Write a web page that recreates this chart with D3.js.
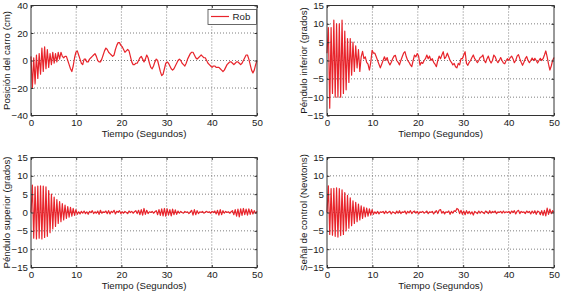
<!DOCTYPE html>
<html lang="es">
<head>
<meta charset="UTF-8">
<title>Respuesta del doble péndulo</title>
<script src="https://d3js.org/d3.v7.min.js"></script>
<style>
  body { margin: 0; background: #fff; }
  svg text { font-family: "Liberation Sans", Arial, sans-serif; font-size: 9.7px; fill: #1a1a1a; }
  .grid line { stroke: #6f6f6f; stroke-width: 0.9; stroke-dasharray: 1,2; }
  .frame { fill: none; stroke: #333; stroke-width: 1; }
  .axis path { display: none; }
  .axis line { stroke: #333; }
  .serie { fill: none; stroke: #e8242b; stroke-width: 1.2; stroke-linejoin: round; }
</style>
</head>
<body>
<svg width="562" height="293"></svg>
<script>
// rejilla de tiempo: 167 muestras de 0 a 50 s
const tiempo = d3.range(167).map(i => i * 50 / 166);

const posicionCarro = [
  3, -20, 2, -17, 4, -13, 5, -10, 9, -8,
  10, -6, 8, -5, 5, -3, 6, -2, 5, -1,
  6, 1, 6, 3, 2, 3, 3, 0, -3, -6,
  -8, -4, 2, 6, 7, 4, 1, -2, -3, 1,
  1, -1, -1, 1, 2, 3, 4, 5, 3, 0,
  -1, -1, 1, 4, 7, 9, 8, 6, 5, 4,
  3, 4, 8, 11, 13, 13, 11, 10, 8, 6,
  7, 8, 7, 3, -1, -3, -3, -2, -2, 0,
  2, 3, 1, -1, 1, 4, 2, -2, -5, -6,
  -4, -1, 1, 0, -4, -8, -11, -10, -6, -2,
  -1, -2, -4, -6, -7, -6, -4, -2, 0, 1,
  0, -2, -3, -4, -2, 1, 3, 5, 6, 6,
  4, 2, 1, 2, 3, 4, 3, 2, 2, 0,
  -2, -3, -4, -5, -4, -4, -5, -5, -5, -6,
  -7, -8, -7, -5, -3, -2, -1, -1, -2, -3,
  -2, -1, -1, -2, -3, -2, 0, 2, 4, 4,
  1, -3, -7, -9, -7, -3, 0
];

const penduloInferior = [
  2, 9, -13, 9, -9, 11, -10, 10, -10, 10,
  -10, 11, -9, 8, -8, 6, -6, 6, -4, 5,
  -3, 4, -2, 3, -3, 1, 2.5, 0.5, 1, -0.5,
  -1, -2.6, -0.5, 2.8, 2, 2, 1, 0, -1, -2,
  -1, 0, 1, 0, 0.8, -0.5, -1.2, -0.5, 0.5, 1.2,
  1.4, 0, -0.5, -1.2, 0, 1, 2, 2.4, 1, 0,
  -0.5, -1.2, -1.7, 0, 1.5, 1, 1.9, 1.2, -1.3, -0.5,
  -0.8, 0, 0.5, 1.5, 0.5, 1.2, 0, 0.5, -0.5, -1,
  -1.7, 0, 1.2, 0.5, 1.5, 2.4, 0.5, 1, 2, 1,
  0, -0.5, -1.2, -0.8, -1.7, -2, -0.8, -1.2, 0.5, 0.5,
  1.5, 2.4, -0.8, -1.3, -0.5, 0, 0.8, 1.5, 0.5, 0,
  -0.6, 0, 0.8, 1, 1.5, 0, -0.6, 0.5, 1.2, 0,
  -0.7, 0, 1.5, 1, 0, -0.6, 0, 0.8, 0, -0.7,
  -0.9, 0, 0.5, 0, 0.8, 1.2, 0.5, -0.6, 0, 1.2,
  1.6, 0.5, -0.5, -1.3, -0.5, 0.5, 1.1, 0, -0.6, 0,
  0.7, 0, 0.6, 0, -0.7, 0, 0.6, 0, 0.5, 1.5,
  2.6, 1, -1, -2.6, -1.5, 0, 0.8
];

const penduloSuperior = [
  0, 7.5, -7, 7, -7.2, 7.2, -7, 7.3, -7.2, 7.2,
  -6.8, 7, -6.5, 6, -5.5, 5, -4.5, 4.2, -3.8, 3.5,
  -3, 3, -2.5, 2.4, -2, 2, -1.6, 1.6, -1.3, 1.4,
  -1, 1.1, -0.8, 0.8, -0.5, 0.2, -0.4, 0.3, -0.2, 0.4,
  -0.3, 0.2, -0.5, 0.3, 0, 0.5, -0.3, 0.2, -0.2, 0.4,
  -0.5, 0.6, -0.2, 0.2, 0, 0.4, -0.3, 0.5, -0.4, 0.3,
  0, 0.6, -0.4, 0.3, 0.1, 0.5, -0.3, 0.2, -0.2, 0.3,
  0, -0.3, 0.4, 0, 0.3, -0.2, 0.2, 0.5, -0.3, 0.6,
  -0.6, 0.8, -0.7, 1.1, -0.5, 0.6, -0.3, 0.2, 0, 0.3,
  -0.2, 0.2, 0.5, -0.6, 0.8, -0.8, 1, -0.9, 1.1, -1,
  1, -0.7, 0.8, -0.9, 0.9, -0.6, 0.7, -0.5, 0.4, -0.2,
  0.3, 0, -0.2, 0.3, 0, 0.2, -0.3, 0.2, 0.6, -0.7,
  0.8, -0.6, 0.5, -0.3, 0.2, 0, 0.3, -0.2, 0.1, 0.3,
  0, 0.2, -0.2, 0.3, 0, 0.4, -0.4, 0.6, -0.7, 0.8,
  -0.6, 0.5, -0.2, 0.3, 0, 0.2, -0.2, 0.2, 0.5, -0.6,
  0.8, -1, 0.9, -1.2, 1, -0.8, 1.1, -0.6, 0.9, -0.7,
  1, -0.5, 0.8, -0.4, 0.5, -0.2, 0.3
];

const senalControl = [
  0, 7.3, -6, 6.5, -6.2, 6.6, -6.5, 6.7, -6.7, 6.5,
  -6.3, 6.2, -6, 5.4, -5, 4.7, -4.3, 4, -3.6, 3.2,
  -3, 2.8, -2.5, 2.3, -2, 1.8, -1.6, 1.5, -1.2, 1.2,
  -1, 1, -0.7, 0.8, -0.5, 0.2, -0.3, 0.3, -0.4, 0.2,
  0, 0.3, -0.3, 0.4, -0.2, 0.1, 0.3, -0.4, 0.2, 0,
  -0.3, 0.4, -0.2, 0.5, -0.3, 0.2, 0, 0.4, -0.4, 0.3,
  -0.1, 0.5, -0.3, 0.2, 0.4, -0.2, 0.3, -0.4, 0.2, 0,
  0.3, -0.2, 0.1, 0.4, -0.3, 0.2, 0, 0.3, -0.4, 0.2,
  0.5, -0.3, 0.6, 0.8, -0.2, 0.3, -0.4, 0.2, 0, 0.4,
  -0.5, 0.3, -0.2, 0.5, 0.3, 1.1, 0.8, -0.3, 0.6, -0.5,
  0.4, -0.6, 0.5, -0.3, 0.3, -0.4, 0.2, -0.7, 0.3, 0,
  -0.3, 0.4, -0.2, 0.3, 0, -0.3, 0.4, 0.2, -0.3, 0.5,
  -0.2, 0.3, 0, 0.4, -0.3, 0.2, 0, 0.3, -0.2, 0.4,
  -0.1, 0.2, 0, 0.3, -0.3, 0.4, 0, 0.5, -0.4, 0.3,
  0.6, -0.3, 0.3, 0, 0.2, -0.3, 0.4, 0, 0.3, -0.4,
  0.4, -0.2, 0.5, -0.5, 0.4, 0.2, -0.6, 0.5, -0.8, 0.6,
  -0.9, 1.2, -0.5, 0.9, -0.3, 0.5, 0
];

const ticksTiempo = [0, 10, 20, 30, 40, 50];
const ticksCarro = [-40, -20, 0, 20, 40];
const ticksGrados = [-15, -10, -5, 0, 5, 10, 15];

const svg = d3.select("svg");

const paneles = [
  { datos: posicionCarro,   yTicks: ticksCarro,  ylabel: "Posición del carro (cm)",     x0: 31,  y0: 5.5,   w: 226, leyenda: "Rob", labX: 7 },
  { datos: penduloInferior, yTicks: ticksGrados, ylabel: "Péndulo inferior (grados)",   x0: 327, y0: 5.5,   w: 227, labX: 304 },
  { datos: penduloSuperior, yTicks: ticksGrados, ylabel: "Péndulo superior (grados)",   x0: 31,  y0: 157.5, w: 226, labX: 7 },
  { datos: senalControl,    yTicks: ticksGrados, ylabel: "Señal de control (Newtons)",  x0: 327, y0: 157.5, w: 227, labX: 304 }
];
const alto = 110;

paneles.forEach(p => {
  const x = d3.scaleLinear().domain([0, 50]).range([p.x0, p.x0 + p.w]);
  const y = d3.scaleLinear()
              .domain(d3.extent(p.yTicks))
              .range([p.y0 + alto, p.y0]);

  // rejilla punteada
  const g = svg.append("g").attr("class", "grid");
  g.selectAll(".gx").data(ticksTiempo.slice(1, -1)).enter().append("line")
   .attr("x1", d => x(d)).attr("x2", d => x(d))
   .attr("y1", p.y0).attr("y2", p.y0 + alto);
  g.selectAll(".gy").data(p.yTicks.slice(1, -1)).enter().append("line")
   .attr("x1", p.x0).attr("x2", p.x0 + p.w)
   .attr("y1", d => y(d)).attr("y2", d => y(d));

  // serie
  const linea = d3.line().x((d, i) => x(tiempo[i])).y(d => y(d));
  svg.append("path").attr("class", "serie").attr("d", linea(p.datos));

  // ejes con marcas hacia dentro
  svg.append("g").attr("class", "axis")
     .attr("transform", `translate(0,${p.y0 + alto})`)
     .call(d3.axisBottom(x).tickValues(ticksTiempo).tickSize(-2.5).tickPadding(3.5));
  svg.append("g").attr("class", "axis")
     .attr("transform", `translate(${p.x0},0)`)
     .call(d3.axisLeft(y).tickValues(p.yTicks).tickSize(-2.5).tickPadding(3));
  svg.append("g").attr("class", "axis")
     .attr("transform", `translate(0,${p.y0})`)
     .call(d3.axisTop(x).tickValues(ticksTiempo).tickSize(-2.5).tickFormat(""));
  svg.append("g").attr("class", "axis")
     .attr("transform", `translate(${p.x0 + p.w},0)`)
     .call(d3.axisRight(y).tickValues(p.yTicks).tickSize(-2.5).tickFormat(""));

  svg.selectAll(".axis text").attr("fill", "#1a1a1a");

  svg.append("rect").attr("class", "frame")
     .attr("x", p.x0).attr("y", p.y0).attr("width", p.w).attr("height", alto);

  // títulos
  svg.append("text")
     .attr("x", p.x0 + p.w / 2).attr("y", p.y0 + alto + 21.5)
     .attr("text-anchor", "middle")
     .text("Tiempo (Segundos)");
  svg.append("text")
     .attr("transform", `translate(${p.labX},${p.y0 + alto / 2}) rotate(-90)`)
     .attr("text-anchor", "middle")
     .attr("dy", "0.35em")
     .text(p.ylabel);

  if (p.leyenda) {
    const lg = svg.append("g");
    lg.append("rect").attr("x", p.x0 + p.w - 49).attr("y", p.y0 + 4)
      .attr("width", 48.5).attr("height", 15)
      .attr("fill", "#fff").attr("stroke", "#444").attr("stroke-width", 0.8);
    lg.append("line").attr("x1", p.x0 + p.w - 46).attr("x2", p.x0 + p.w - 28)
      .attr("y1", p.y0 + 11).attr("y2", p.y0 + 11)
      .attr("stroke", "#e8242b").attr("stroke-width", 1.2);
    lg.append("text").attr("x", p.x0 + p.w - 24.5).attr("y", p.y0 + 11)
      .attr("dy", "0.35em").text(p.leyenda);
  }
});
</script>
</body>
</html>
